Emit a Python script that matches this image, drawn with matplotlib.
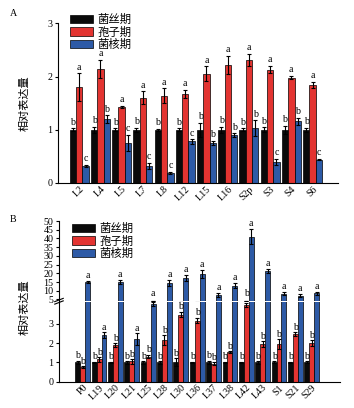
import matplotlib
matplotlib.use("Agg")
import matplotlib.pyplot as plt
import numpy as np

plt.rcParams['font.family'] = ['Liberation Serif', 'Noto Sans CJK SC']

# ---------- Panel A data ----------
a_cats = ["L2", "L4", "L5", "L7", "L8", "L12", "L15", "L16", "S2p", "S3", "S4", "S6"]
a_myc = [1.0, 1.0, 1.0, 1.0, 1.0, 1.0, 1.0, 1.0, 1.0, 1.0, 1.0, 1.0]
a_myc_err = [0.03, 0.06, 0.03, 0.04, 0.02, 0.03, 0.13, 0.06, 0.03, 0.05, 0.08, 0.04]
a_spo = [1.80, 2.14, 1.43, 1.60, 1.64, 1.67, 2.05, 2.22, 2.31, 2.13, 1.98, 1.84]
a_spo_err = [0.26, 0.17, 0.02, 0.12, 0.14, 0.08, 0.14, 0.17, 0.12, 0.07, 0.03, 0.06]
a_scl = [0.32, 1.20, 0.75, 0.32, 0.19, 0.78, 0.75, 0.90, 1.03, 0.39, 1.16, 0.44]
a_scl_err = [0.02, 0.07, 0.15, 0.06, 0.02, 0.04, 0.04, 0.03, 0.15, 0.06, 0.07, 0.01]
a_let_myc = ["b"] * 12
a_let_spo = ["a"] * 12
a_let_scl = ["c", "b", "c", "c", "c", "c", "b", "b", "b", "c", "b", "c"]

# ---------- Panel B data ----------
b_cats = ["P0", "L19", "L20", "L21", "L25", "L28", "L30", "L36", "L37", "L38",
          "L42", "L43", "S1", "S21", "S29"]
b_myc = [1.0] * 15
b_myc_err = [0.08, 0.04, 0.03, 0.07, 0.06, 0.06, 0.2, 0.04, 0.08, 0.04, 0.03, 0.06, 0.05, 0.03, 0.05]
b_spo = [0.75, 1.15, 1.90, 1.05, 1.30, 2.15, 3.47, 3.16, 0.93, 1.52, 3.95, 1.95, 1.95, 2.47, 2.00]
b_spo_err = [0.05, 0.12, 0.1, 0.12, 0.1, 0.25, 0.15, 0.15, 0.08, 0.06, 0.1, 0.15, 0.25, 0.1, 0.15]
b_scl = [15.0, 2.40, 15.2, 2.20, 4.00, 14.5, 17.2, 19.5, 7.5, 13.0, 41.0, 21.5, 8.2, 7.2, 8.5]
b_scl_err = [0.6, 0.15, 1.2, 0.3, 0.1, 1.8, 1.6, 2.4, 1.0, 1.3, 4.2, 1.2, 0.8, 0.8, 0.8]
b_let_myc = ["b"] * 15
b_let_spo = ["b"] * 15
b_let_scl = ["a"] * 15

legend_labels = ["菌丝期", "孢子期", "菌核期"]
colors = ["#0a0a0a", "#e33431", "#2d5aa6"]

W, H = 354, 408
fig = plt.figure(figsize=(W / 100, H / 100), dpi=100)

def rect(x0, y0, x1, y1):
    return [x0 / W, 1 - y1 / H, (x1 - x0) / W, (y1 - y0) / H]

def fpt(x, y):
    return (x / W, 1 - y / H)

fs = 7.2
lfs = 8.2
yfs = 8.0
bw = 0.3
ekw = dict(ecolor="black", elinewidth=0.8, capsize=1.2, capthick=0.8)

def style_axes(ax):
    for s in ["top", "right"]:
        ax.spines[s].set_visible(False)
    for s in ["left", "bottom"]:
        ax.spines[s].set_linewidth(0.8)
    ax.tick_params(axis="y", length=2.5, width=0.8, labelsize=fs, pad=1.5)
    ax.tick_params(axis="x", length=0, labelsize=fs, pad=1)

leg_kw = dict(frameon=False, handlelength=2.0, handleheight=0.75, handletextpad=0.4,
              labelspacing=0.12, borderpad=0, borderaxespad=0,
              prop={"family": ["Noto Sans CJK SC"], "size": lfs})

# ---------------- Panel A ----------------
axA = fig.add_axes(rect(58, 23.3, 338, 183))
xA = np.arange(len(a_cats))
series_A = [(a_myc, a_myc_err, a_let_myc), (a_spo, a_spo_err, a_let_spo), (a_scl, a_scl_err, a_let_scl)]
for i, (vals, errs, lets) in enumerate(series_A):
    pos = xA + (i - 1) * bw
    axA.bar(pos, vals, bw, color=colors[i], edgecolor="black", linewidth=0.5,
            yerr=errs, error_kw=ekw, label=legend_labels[i])
    for p, v, e, l in zip(pos, vals, errs, lets):
        axA.text(p, v + e + 0.03, l, ha="center", va="bottom", fontsize=fs)
axA.set_xlim(-1.0, 12.2)
axA.set_ylim(0, 3)
axA.set_yticks([0, 1, 2, 3])
axA.set_xticks(xA)
axA.set_xticklabels(a_cats, rotation=45, ha="right", va="top", rotation_mode="anchor")
style_axes(axA)
axA.legend(loc="upper left", bbox_to_anchor=fpt(70, 14), bbox_transform=fig.transFigure, **leg_kw)
fig.text(25 / W, 1 - 103 / H, "相对表达量", rotation=90, ha="center", va="center",
         fontsize=yfs, family=["Noto Sans CJK SC"])
fig.text(10 / W, 1 - 14 / H, "A", fontsize=fs, ha="left", va="center")

# ---------------- Panel B ----------------
axBl = fig.add_axes(rect(59, 302, 340, 381.7))
axBu = fig.add_axes(rect(59, 221, 340, 300.5))
xB = np.arange(len(b_cats))
series_B = [(b_myc, b_myc_err, b_let_myc), (b_spo, b_spo_err, b_let_spo), (b_scl, b_scl_err, b_let_scl)]
low_top = 4.12
up_bot = 4.4
for i, (vals, errs, lets) in enumerate(series_B):
    pos = xB + (i - 1) * bw
    for ax in (axBl, axBu):
        ax.bar(pos, vals, bw, color=colors[i], edgecolor="black", linewidth=0.5,
               yerr=errs, error_kw=ekw, label=legend_labels[i])
    for p, v, e, l in zip(pos, vals, errs, lets):
        top = v + e
        if top < low_top - 0.25:
            axBl.text(p, top + 0.02, l, ha="center", va="bottom", fontsize=fs)
        elif top < low_top:
            axBu.text(p, 5.8, l, ha="center", va="bottom", fontsize=fs)
        else:
            axBu.text(p, top + 0.6, l, ha="center", va="bottom", fontsize=fs)
for ax in (axBl, axBu):
    ax.set_xlim(-1.45, 15.73)
    style_axes(ax)
axBl.set_ylim(0, low_top)
axBu.set_ylim(up_bot, 50)
axBl.set_yticks([0, 1, 2, 3])
axBu.set_yticks([5, 10, 15, 20, 25, 30, 35, 40, 45, 50])
axBu.tick_params(axis="y", labelsize=fs, pad=1.5)
axBu.spines["bottom"].set_visible(False)
axBu.set_xticks([])
axBl.spines["top"].set_visible(False)
axBl.set_xticks(xB)
axBl.set_xticklabels(b_cats, rotation=45, ha="right", va="top", rotation_mode="anchor")
# break marks
d = 0.012
kw = dict(transform=fig.transFigure, color="black", lw=0.8, clip_on=False)
bx = 59 / W
for yy in (1 - 300 / H, 1 - 302.5 / H):
    fig.add_artist(plt.Line2D([bx - d, bx + d], [yy - 0.004, yy + 0.004], **kw))
axBu.legend(loc="upper left", bbox_to_anchor=fpt(72, 223), bbox_transform=fig.transFigure, **leg_kw)
fig.text(25 / W, 1 - 307 / H, "相对表达量", rotation=90, ha="center", va="center",
         fontsize=yfs, family=["Noto Sans CJK SC"])
fig.text(10 / W, 1 - 219 / H, "B", fontsize=fs, ha="left", va="center")

fig.savefig("out.png", dpi=100)
